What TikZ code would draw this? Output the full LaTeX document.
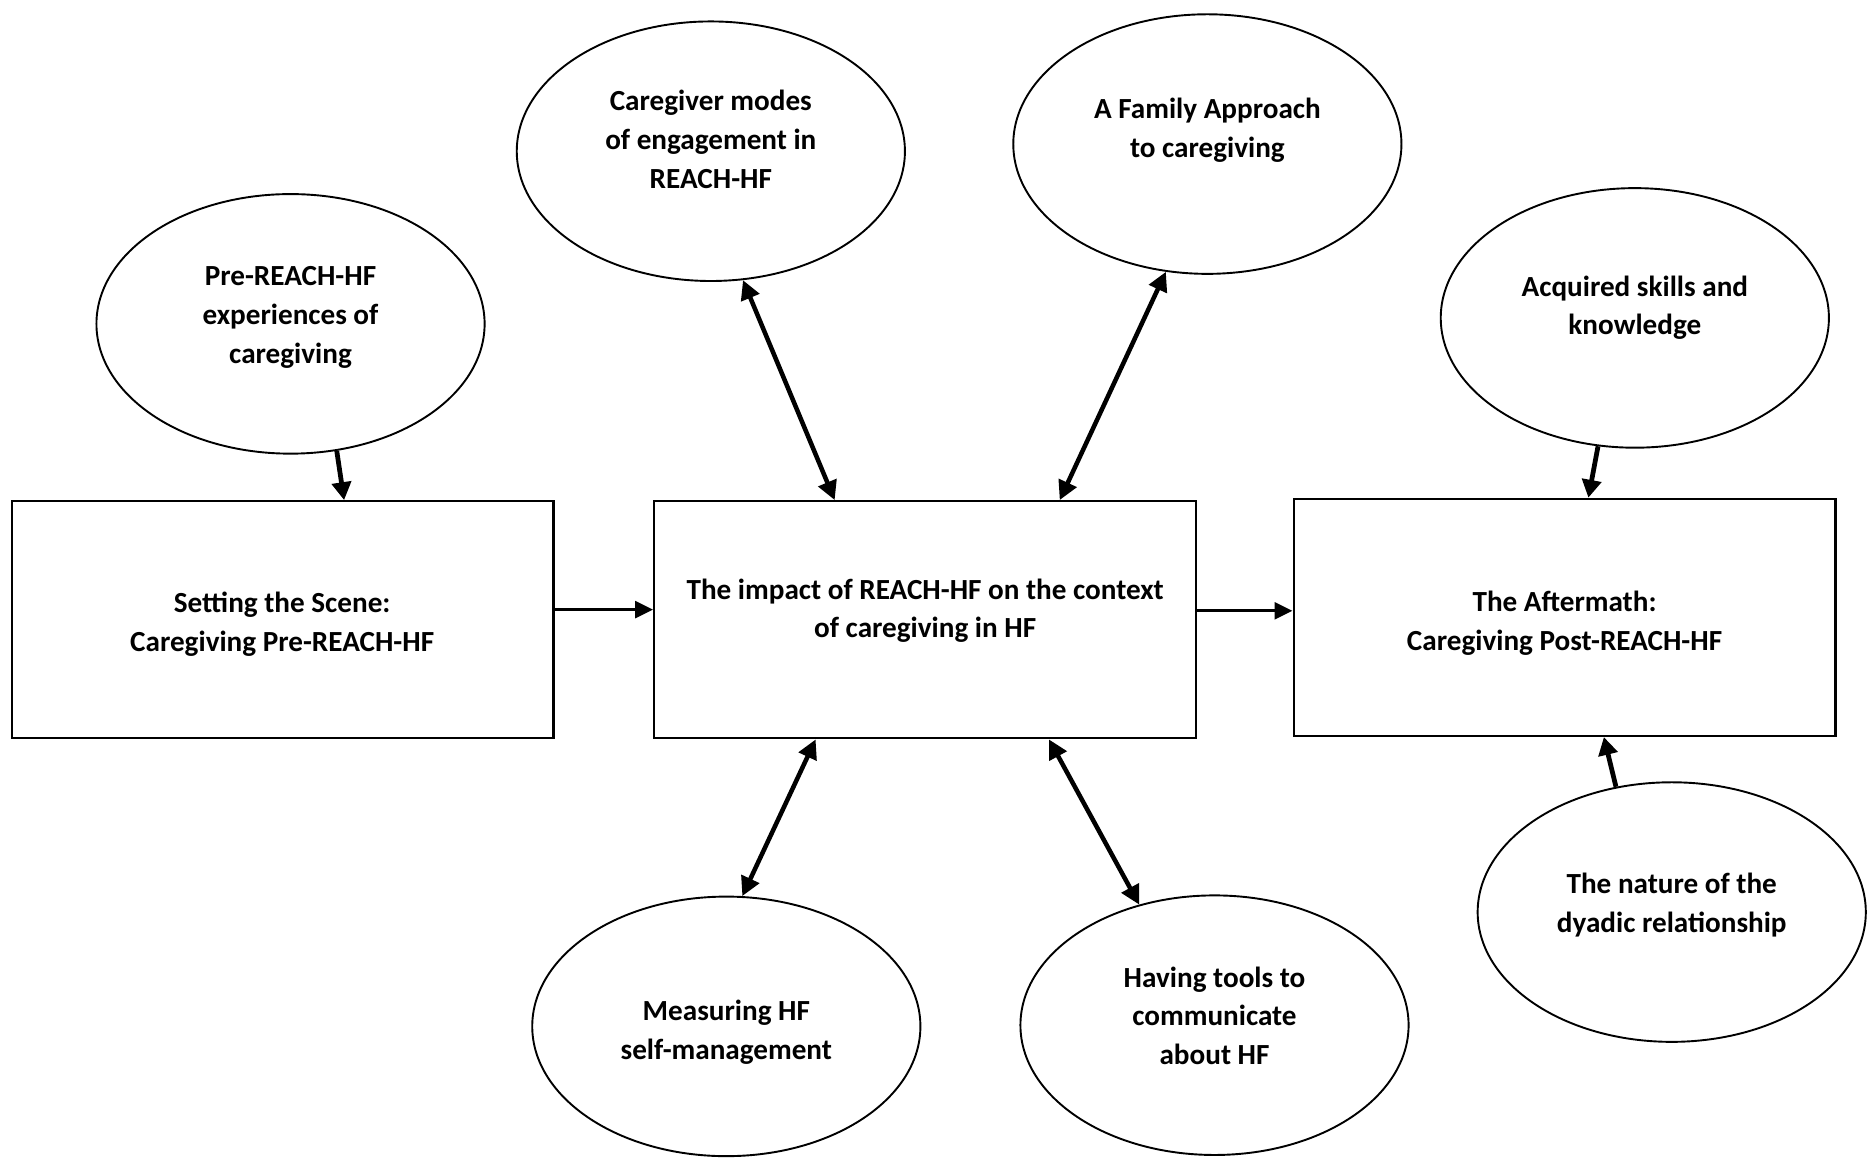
\documentclass[tikz,border=0pt]{standalone}
\usepackage{fontspec}
\setmainfont{Carlito}
\usetikzlibrary{shapes.geometric,arrows.meta}

\begin{document}
\begin{tikzpicture}[x=1pt,y=-1pt,
  stagebox/.style={draw, line width=2pt, rectangle, minimum width=455pt, minimum height=199pt, inner sep=0pt},
  theme/.style={draw, line width=1.6pt, ellipse, minimum width=326pt, minimum height=218pt, inner sep=0pt},
  lbl/.style={align=center, font=\fontsize{24.5}{32.5}\selectfont\bfseries, inner sep=0pt},
  flow/.style={line width=2.8pt, -{Triangle[length=15pt,width=14pt]}},
  link/.style={line width=3.8pt, {Triangle[length=16pt,width=16pt]}-{Triangle[length=16pt,width=16pt]}},
  feed/.style={line width=4pt, -{Triangle[length=15pt,width=16pt]}}]

\useasboundingbox (0,0) rectangle (1568,973);

% stage boxes
\node[stagebox] (lbox) at (237.5,520.5) {};
\node[stagebox] (mbox) at (777,520.5) {};
\node[stagebox] (rbox) at (1314,518.5) {};

% theme ellipses
\node[theme] (pre)  at (244,272) {};
\node[theme] (mode) at (597,127) {};
\node[theme] (fam)  at (1014,121) {};
\node[theme] (acq)  at (1373,267) {};
\node[theme] (meas) at (610,862) {};
\node[theme] (tool) at (1020,861) {};
\node[theme] (dyad) at (1404,766) {};

% texts
\node[lbl] (lboxT) at (237,524) {Setting the Scene:\\Caregiving Pre-REACH-HF};
\node[lbl] (mboxT) at (777,513) {The impact of REACH-HF on the context\\of caregiving in HF};
\node[lbl] (rboxT) at (1314,523.5) {The Aftermath:\\Caregiving Post-REACH-HF};
\node[lbl] (preT)  at (244,266.5) {Pre-REACH-HF\\experiences of\\caregiving};
\node[lbl] (modeT) at (597,117) {Caregiver modes\\of engagement in\\REACH-HF};
\node[lbl] (famT)  at (1014,109.5) {A Family Approach\\to caregiving};
\node[lbl] (acqT)  at (1373,258.5) {Acquired skills and\\knowledge};
\node[lbl] (measT) at (610,867) {Measuring HF\\self-management};
\node[lbl] (toolT) at (1020,853) {Having tools to\\communicate\\about HF};
\node[lbl] (dyadT) at (1404,760) {The nature of the\\dyadic relationship};

% main flow
\draw[flow] ([yshift=8.5pt]lbox.east) -- ([yshift=8.5pt]mbox.west);
\draw[flow] ([yshift=7.5pt]mbox.east) -- ([yshift=5.5pt]rbox.west);

% feeding themes
\draw[feed] (pre.-70) -- ([xshift=51.5pt]lbox.north);
\draw[feed] (acq.-106.5) -- ([xshift=20pt]rbox.north);
\draw[feed] (dyad.114.8) -- ([xshift=33pt]rbox.south);

% two-way themes
\draw[link] (mode.-76.8) -- ([xshift=-76pt]mbox.north);
\draw[link] (fam.-108.3) -- ([xshift=113pt]mbox.north);
\draw[link] (meas.83.6) -- ([xshift=-92pt]mbox.south);
\draw[link] (tool.122.6) -- ([xshift=104pt]mbox.south);

\end{tikzpicture}
\end{document}
